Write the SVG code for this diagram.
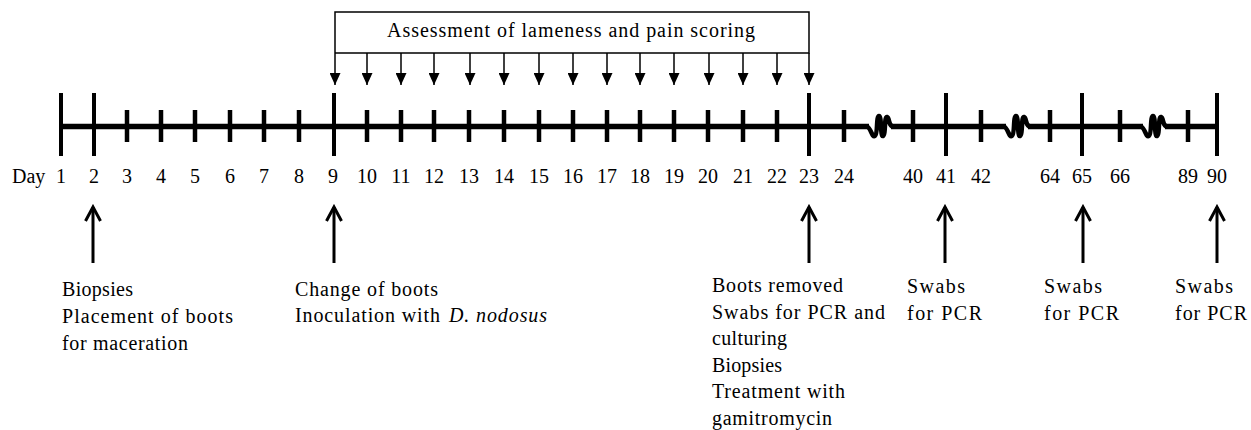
<svg xmlns="http://www.w3.org/2000/svg" width="1251" height="430" viewBox="0 0 1251 430">
<style>
  text { font-family: "Liberation Serif", Tinos, "Times New Roman", Times, "DejaVu Serif", "Noto Serif", serif; font-size: 20px; fill: #000; }
  .lbl { text-anchor: middle; }
  .axis { stroke: #000; stroke-width: 5.5; fill: none; }
  .big { stroke: #000; stroke-width: 4; }
  .small { stroke: #000; stroke-width: 4.5; }
  .brk { stroke: #000; stroke-width: 4.5; fill: none; stroke-linejoin: round; stroke-linecap: round; }
  .box { stroke: #000; stroke-width: 1.5; fill: none; }
  .down { stroke: #000; stroke-width: 1.5; marker-end: url(#tri); }
  .up { stroke: #000; stroke-width: 3; marker-end: url(#chev); }
</style>
<defs>
  <marker id="tri" viewBox="0 0 12 11" refX="12" refY="5.5" markerWidth="12" markerHeight="11" markerUnits="userSpaceOnUse" orient="auto">
    <path d="M0,0 L12,5.5 L0,11 z" fill="#000"/>
  </marker>
  <marker id="chev" viewBox="-3 -3 21 22" refX="15" refY="8" markerWidth="21" markerHeight="22" markerUnits="userSpaceOnUse" orient="auto">
    <path d="M1,0.5 L15,8 L1,15.5" fill="none" stroke="#000" stroke-width="3" stroke-linejoin="miter"/>
  </marker>
</defs>

<g id="timeline">
  <path class="axis" d="M61,126.5 H869 M891,126.5 H1006 M1028,126.5 H1143 M1165,126.5 H1217"/>
  <g id="breaks">
    <path class="brk" d="M867,126.5 C871,128 872,138 875,136 C878,134 876,116 879,116 C882,116 880,137 883,136 C886,135 884,116 887,117 C890,118 888,126 893,126.5"/>
    <path class="brk" d="M1004,126.5 C1008,128 1009,138 1012,136 C1015,134 1013,116 1016,116 C1019,116 1017,137 1020,136 C1023,135 1021,116 1024,117 C1027,118 1025,126 1030,126.5"/>
    <path class="brk" d="M1141,126.5 C1145,128 1146,138 1149,136 C1152,134 1150,116 1153,116 C1156,116 1154,137 1157,136 C1160,135 1158,116 1161,117 C1164,118 1162,126 1167,126.5"/>
  </g>
  <g id="big-ticks">
    <line class="big" x1="61" y1="93" x2="61" y2="156"/>
    <line class="big" x1="94" y1="93" x2="94" y2="156"/>
    <line class="big" x1="334" y1="93" x2="334" y2="156"/>
    <line class="big" x1="809" y1="93" x2="809" y2="156"/>
    <line class="big" x1="946" y1="93" x2="946" y2="156"/>
    <line class="big" x1="1082" y1="93" x2="1082" y2="156"/>
    <line class="big" x1="1217" y1="93" x2="1217" y2="156"/>
  </g>
  <g id="small-ticks">
    <line class="small" x1="127" y1="110" x2="127" y2="142"/>
    <line class="small" x1="161" y1="110" x2="161" y2="142"/>
    <line class="small" x1="195" y1="110" x2="195" y2="142"/>
    <line class="small" x1="230" y1="110" x2="230" y2="142"/>
    <line class="small" x1="264" y1="110" x2="264" y2="142"/>
    <line class="small" x1="299" y1="110" x2="299" y2="142"/>
    <line class="small" x1="367" y1="110" x2="367" y2="142"/>
    <line class="small" x1="401" y1="110" x2="401" y2="142"/>
    <line class="small" x1="434" y1="110" x2="434" y2="142"/>
    <line class="small" x1="469" y1="110" x2="469" y2="142"/>
    <line class="small" x1="504" y1="110" x2="504" y2="142"/>
    <line class="small" x1="539" y1="110" x2="539" y2="142"/>
    <line class="small" x1="573" y1="110" x2="573" y2="142"/>
    <line class="small" x1="607" y1="110" x2="607" y2="142"/>
    <line class="small" x1="640" y1="110" x2="640" y2="142"/>
    <line class="small" x1="674" y1="110" x2="674" y2="142"/>
    <line class="small" x1="708" y1="110" x2="708" y2="142"/>
    <line class="small" x1="743" y1="110" x2="743" y2="142"/>
    <line class="small" x1="777" y1="110" x2="777" y2="142"/>
    <line class="small" x1="844" y1="110" x2="844" y2="142"/>
    <line class="small" x1="913" y1="110" x2="913" y2="142"/>
    <line class="small" x1="981" y1="110" x2="981" y2="142"/>
    <line class="small" x1="1050" y1="110" x2="1050" y2="142"/>
    <line class="small" x1="1120" y1="110" x2="1120" y2="142"/>
    <line class="small" x1="1188" y1="110" x2="1188" y2="142"/>
  </g>
  <g id="day-labels">
    <text x="12" y="183">Day</text>
    <text class="lbl" x="61" y="183">1</text>
    <text class="lbl" x="94" y="183">2</text>
    <text class="lbl" x="127" y="183">3</text>
    <text class="lbl" x="161" y="183">4</text>
    <text class="lbl" x="195" y="183">5</text>
    <text class="lbl" x="230" y="183">6</text>
    <text class="lbl" x="264" y="183">7</text>
    <text class="lbl" x="299" y="183">8</text>
    <text class="lbl" x="333" y="183">9</text>
    <text class="lbl" x="367" y="183">10</text>
    <text class="lbl" x="401" y="183">11</text>
    <text class="lbl" x="434" y="183">12</text>
    <text class="lbl" x="469" y="183">13</text>
    <text class="lbl" x="504" y="183">14</text>
    <text class="lbl" x="539" y="183">15</text>
    <text class="lbl" x="573" y="183">16</text>
    <text class="lbl" x="607" y="183">17</text>
    <text class="lbl" x="640" y="183">18</text>
    <text class="lbl" x="674" y="183">19</text>
    <text class="lbl" x="708" y="183">20</text>
    <text class="lbl" x="743" y="183">21</text>
    <text class="lbl" x="777" y="183">22</text>
    <text class="lbl" x="809" y="183">23</text>
    <text class="lbl" x="844" y="183">24</text>
    <text class="lbl" x="913" y="183">40</text>
    <text class="lbl" x="946" y="183">41</text>
    <text class="lbl" x="981" y="183">42</text>
    <text class="lbl" x="1050" y="183">64</text>
    <text class="lbl" x="1082" y="183">65</text>
    <text class="lbl" x="1120" y="183">66</text>
    <text class="lbl" x="1188" y="183">89</text>
    <text class="lbl" x="1217" y="183">90</text>
  </g>
</g>

<g id="assessment">
  <path class="box" d="M335,53 V12 H809 V53 H335"/>
  <text x="387" y="37" textLength="368" lengthAdjust="spacing">Assessment  of lameness  and pain scoring</text>
</g>

<g id="connectors">
  <line class="down" x1="335" y1="53" x2="335" y2="85"/>
  <line class="down" x1="367" y1="53" x2="367" y2="85"/>
  <line class="down" x1="401" y1="53" x2="401" y2="85"/>
  <line class="down" x1="434" y1="53" x2="434" y2="85"/>
  <line class="down" x1="470" y1="53" x2="470" y2="85"/>
  <line class="down" x1="504" y1="53" x2="504" y2="85"/>
  <line class="down" x1="539" y1="53" x2="539" y2="85"/>
  <line class="down" x1="573" y1="53" x2="573" y2="85"/>
  <line class="down" x1="607" y1="53" x2="607" y2="85"/>
  <line class="down" x1="640" y1="53" x2="640" y2="85"/>
  <line class="down" x1="674" y1="53" x2="674" y2="85"/>
  <line class="down" x1="709" y1="53" x2="709" y2="85"/>
  <line class="down" x1="743" y1="53" x2="743" y2="85"/>
  <line class="down" x1="777" y1="53" x2="777" y2="85"/>
  <line class="down" x1="809" y1="53" x2="809" y2="85"/>
  <line class="up" x1="93" y1="263" x2="93" y2="207"/>
  <line class="up" x1="334" y1="263" x2="334" y2="207"/>
  <line class="up" x1="809" y1="263" x2="809" y2="207"/>
  <line class="up" x1="945" y1="263" x2="945" y2="207"/>
  <line class="up" x1="1083" y1="263" x2="1083" y2="207"/>
  <line class="up" x1="1217" y1="263" x2="1217" y2="207"/>
</g>

<g id="note-day2">
  <text x="62" y="296" textLength="71" lengthAdjust="spacing">Biopsies</text>
  <text x="62" y="323" textLength="171" lengthAdjust="spacing">Placement  of boots</text>
  <text x="62" y="350" textLength="126" lengthAdjust="spacing">for  maceration</text>
</g>
<g id="note-day9">
  <text x="295" y="296" textLength="143" lengthAdjust="spacing">Change  of boots</text>
  <text x="295" y="322" textLength="145" lengthAdjust="spacing">Inoculation  with</text>
  <text x="449" y="322" font-style="italic" textLength="98" lengthAdjust="spacing">D. nodosus</text>
</g>
<g id="note-day23">
  <text x="712" y="292" textLength="131" lengthAdjust="spacing">Boots removed</text>
  <text x="712" y="318.5" textLength="173" lengthAdjust="spacing">Swabs for PCR and</text>
  <text x="712" y="345" textLength="75" lengthAdjust="spacing">culturing</text>
  <text x="712" y="371.5" textLength="70" lengthAdjust="spacing">Biopsies</text>
  <text x="712" y="398" textLength="133" lengthAdjust="spacing">Treatment  with</text>
  <text x="712" y="424.5" textLength="120" lengthAdjust="spacing">gamitromycin</text>
</g>
<g id="note-day41">
  <text x="907" y="293" textLength="58" lengthAdjust="spacing">Swabs</text>
  <text x="907" y="320" textLength="75" lengthAdjust="spacing">for PCR</text>
</g>
<g id="note-day65">
  <text x="1044" y="293" textLength="58" lengthAdjust="spacing">Swabs</text>
  <text x="1044" y="320" textLength="75" lengthAdjust="spacing">for PCR</text>
</g>
<g id="note-day90">
  <text x="1175" y="293" textLength="58" lengthAdjust="spacing">Swabs</text>
  <text x="1175" y="320" textLength="72" lengthAdjust="spacing">for PCR</text>
</g>
</svg>
